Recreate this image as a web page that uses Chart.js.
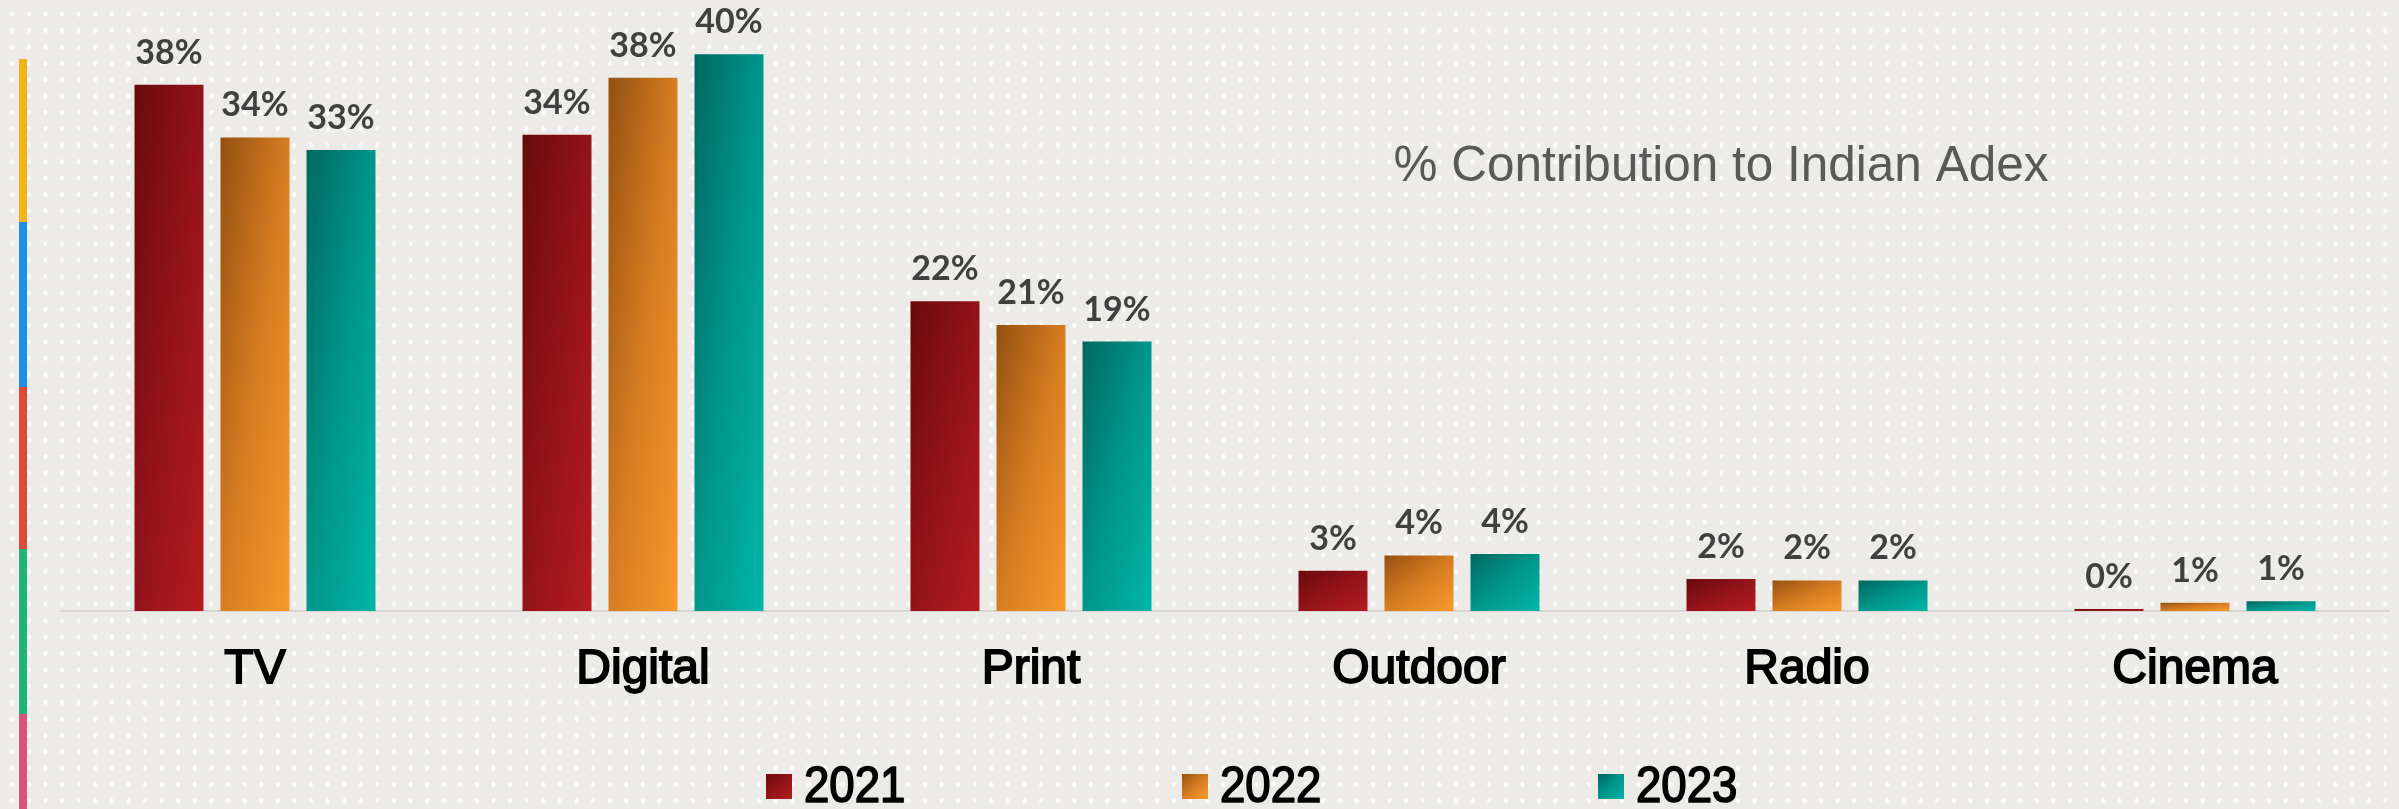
<!DOCTYPE html>
<html>
<head>
<meta charset="utf-8">
<script src="https://cdn.jsdelivr.net/npm/chart.js@4/dist/chart.umd.min.js"></script>
<style>
  html, body { margin: 0; padding: 0; }
  body {
    width: 2399px; height: 809px; overflow: hidden; position: relative;
    background-color: #ecebe7;
    background-image: radial-gradient(ellipse 2.4px 3.2px at 50% 50%, rgba(255,255,255,0.85) 60%, rgba(255,255,255,0) 100%);
    background-size: 16.6px 16.4px;
    background-position: 4px 6px;
  }
  #wrap { position: absolute; left: 0; top: 0; width: 2399px; height: 809px; }
  .stripe { position: absolute; left: 19px; width: 8px; }
</style>
</head>
<body>
<div class="stripe" style="top:59px;height:163px;background:#f1b418"></div>
<div class="stripe" style="top:222px;height:165px;background:#1f8fe6"></div>
<div class="stripe" style="top:387px;height:162px;background:#e04a34"></div>
<div class="stripe" style="top:549px;height:165px;background:#20b577"></div>
<div class="stripe" style="top:714px;height:95px;background:#e0507d"></div>
<div id="wrap"><canvas id="c" width="2399" height="809"></canvas></div>
<script>
// ---------- data ----------
const categories = ["TV", "Digital", "Print", "Outdoor", "Radio", "Cinema"];
const seriesNames = ["2021", "2022", "2023"];
const values2021 = [37.9, 34.3, 22.3, 2.9, 2.3, 0.15];
const values2022 = [34.1, 38.4, 20.6, 4.0, 2.2, 0.6];
const values2023 = [33.2, 40.1, 19.4, 4.1, 2.2, 0.7];
const chartTitle = "% Contribution to Indian Adex";

// ---------- styles ----------
const gradStops = [
  ["#690a0c", "#93131a", "#b61b1f"],
  ["#94500f", "#d67c22", "#f9992b"],
  ["#006860", "#00968a", "#00b6a8"]
];
const CAT_PCT = 0.665, BAR_PCT = 0.802;

function diagGradient(ctx, left, top, right, bottom, stops) {
  const w = Math.max(right - left, 1), h = Math.max(bottom - top, 1);
  const k = 2 / (1 / (w * w) + 1 / (h * h));
  const g = ctx.createLinearGradient(left, top, left + k / w, top + k / h);
  stops.forEach((c, i) => g.addColorStop(i / (stops.length - 1), c));
  return g;
}

function barColor(c) {
  const stops = gradStops[c.datasetIndex];
  const chart = c.chart;
  if (c.type !== 'data' || !chart.chartArea || !chart.scales.x) return stops[1];
  const xs = chart.scales.x, ys = chart.scales.y;
  const catW = xs.width / categories.length;
  const size = catW * CAT_PCT, chunk = size / seriesNames.length;
  const cx = xs.getPixelForValue(c.dataIndex) - size / 2 + chunk * c.datasetIndex + chunk / 2;
  const bw = chunk * BAR_PCT;
  const top = ys.getPixelForValue(c.raw), base = ys.getPixelForValue(0);
  return diagGradient(chart.ctx, cx - bw / 2, top, cx + bw / 2, base, stops);
}

const labelPlugin = {
  id: 'valueLabels',
  afterDatasetsDraw(chart) {
    const ctx = chart.ctx;
    ctx.save();
    ctx.font = '700 34px Lato, "Open Sans", sans-serif';
    ctx.fillStyle = '#404040';
    ctx.textAlign = 'center';
    ctx.textBaseline = 'alphabetic';
    chart.data.datasets.forEach((ds, di) => {
      chart.getDatasetMeta(di).data.forEach((bar, i) => {
        ctx.fillText(Math.round(ds.data[i]) + '%', bar.x, bar.y - 21);
      });
    });
    ctx.restore();
  }
};

const titlePlugin = {
  id: 'sideTitle',
  afterDraw(chart) {
    const ctx = chart.ctx;
    ctx.save();
    ctx.font = '49.5px "Liberation Sans", Arial, sans-serif';
    ctx.fillStyle = '#595959';
    ctx.textAlign = 'center';
    ctx.textBaseline = 'alphabetic';
    ctx.fillText(chartTitle, 1721, 181);
    ctx.restore();
  }
};

const legendPlugin = {
  id: 'bottomLegend',
  afterDraw(chart) {
    const ctx = chart.ctx;
    ctx.save();
    ctx.font = '47px "Liberation Sans", Arial, sans-serif';
    ctx.textAlign = 'left';
    ctx.textBaseline = 'alphabetic';
    ctx.lineWidth = 1.6;
    ctx.lineJoin = 'round';
    chart.data.datasets.forEach((ds, i) => {
      const bx = 766 + i * 416, by = 774;
      ctx.fillStyle = diagGradient(ctx, bx, by, bx + 26, by + 25, gradStops[i]);
      ctx.fillRect(bx, by, 26, 25);
      ctx.fillStyle = '#000000';
      ctx.strokeStyle = '#000000';
      ctx.save();
      ctx.translate(bx + 38, 802);
      ctx.scale(0.97, 1.05);
      ctx.fillText(ds.label, 0, 0);
      ctx.strokeText(ds.label, 0, 0);
      ctx.restore();
    });
    ctx.restore();
  }
};

function build() {
  new Chart(document.getElementById('c'), {
    type: 'bar',
    data: {
      labels: categories,
      datasets: [
        { label: seriesNames[0], data: values2021, backgroundColor: barColor },
        { label: seriesNames[1], data: values2022, backgroundColor: barColor },
        { label: seriesNames[2], data: values2023, backgroundColor: barColor }
      ]
    },
    options: {
      responsive: false,
      animation: false,
      devicePixelRatio: 1,
      datasets: { bar: { borderWidth: 0, categoryPercentage: CAT_PCT, barPercentage: BAR_PCT } },
      layout: { padding: { left: 61, right: 10, top: 0, bottom: 100 } },
      plugins: { legend: { display: false }, title: { display: false }, tooltip: { enabled: false } },
      scales: {
        x: {
          grid: { display: false, drawTicks: false },
          border: { display: true, color: '#d7d6d3', width: 2 },
          ticks: {
            color: '#000000', padding: 30,
            textStrokeColor: '#000000', textStrokeWidth: 1.8,
            font: { family: '"Liberation Sans", Arial, sans-serif', size: 48 }
          },
          afterFit(scale) { scale.height = 98; }
        },
        y: { display: false, min: 0, max: 44 }
      }
    },
    plugins: [labelPlugin, titlePlugin, legendPlugin]
  });
}

Promise.all([
  document.fonts.load('700 34px Lato'),
  document.fonts.load('48px "Liberation Sans"')
]).then(build, build);
</script>
</body>
</html>
